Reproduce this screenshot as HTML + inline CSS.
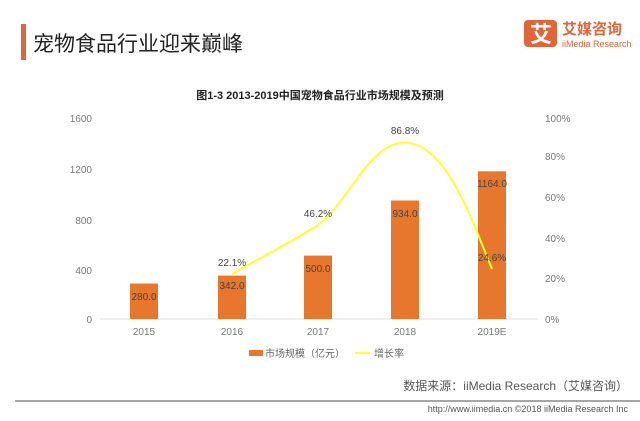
<!DOCTYPE html>
<html><head><meta charset="utf-8"><style>
body{margin:0;width:640px;height:416px;background:#fff;overflow:hidden;font-family:"Liberation Sans","Noto Sans CJK SC",sans-serif;}
</style></head><body>
<svg width="640" height="416" xmlns="http://www.w3.org/2000/svg" font-family="Liberation Sans, Noto Sans CJK SC, sans-serif">
<rect x="21" y="24" width="5" height="36" fill="#e0663a"/>
<text x="33" y="51" font-size="21" fill="#222">宠物食品行业迎来巅峰</text>
<rect x="524" y="20" width="33" height="27" rx="4" fill="#e0663a"/>
<text x="530" y="42" font-size="22" font-weight="bold" fill="#fff">艾</text>
<text x="562" y="34" font-size="15" font-weight="bold" fill="#e0663a">艾媒咨询</text>
<text x="562" y="47" font-size="9" fill="#e0663a">iiMedia Research</text>
<text x="320" y="99" font-size="11" font-weight="bold" fill="#222" text-anchor="middle">图1-3  2013-2019中国宠物食品行业市场规模及预测</text>
<g font-size="10" fill="#777">
<text x="92" y="122" text-anchor="end">1600</text>
<text x="92" y="173" text-anchor="end">1200</text>
<text x="92" y="224" text-anchor="end">800</text>
<text x="92" y="274" text-anchor="end">400</text>
<text x="92" y="323" text-anchor="end">0</text>
<text x="545" y="122">100%</text>
<text x="545" y="160">80%</text>
<text x="545" y="201">60%</text>
<text x="545" y="242">40%</text>
<text x="545" y="282">20%</text>
<text x="545" y="323">0%</text>
<text x="144" y="335" text-anchor="middle">2015</text>
<text x="232" y="335" text-anchor="middle">2016</text>
<text x="318" y="335" text-anchor="middle">2017</text>
<text x="405" y="335" text-anchor="middle">2018</text>
<text x="492" y="335" text-anchor="middle">2019E</text>
</g>
<line x1="100" y1="319" x2="538" y2="319" stroke="#ddd"/>
<g fill="#e8772e">
<rect x="130" y="283.5" width="28" height="35.5"/>
<rect x="218" y="275.6" width="28" height="43.4"/>
<rect x="304" y="255.6" width="28" height="63.4"/>
<rect x="391" y="200.5" width="28" height="118.5"/>
<rect x="478" y="171.3" width="28" height="147.7"/>
</g>
<path d="M232,274 C265,255 295,240 318,225 C350,200 370,142 405,142.8 C445,143 470,215 492,269" fill="none" stroke="#ffff33" stroke-width="2"/>
<g font-size="10" fill="#444" text-anchor="middle">
<text x="144" y="300">280.0</text>
<text x="232" y="289">342.0</text>
<text x="318" y="272">500.0</text>
<text x="405" y="217">934.0</text>
<text x="492" y="187">1164.0</text>
<text x="232" y="266">22.1%</text>
<text x="318" y="217">46.2%</text>
<text x="405" y="134">86.8%</text>
<text x="492" y="261">24.6%</text>
</g>
<rect x="249" y="350" width="14" height="6" fill="#e8772e"/>
<text x="265" y="357" font-size="10" fill="#666">市场规模（亿元）</text>
<line x1="355" y1="353" x2="370" y2="353" stroke="#ffff33" stroke-width="2"/>
<text x="374" y="357" font-size="10" fill="#666">增长率</text>
<text x="628" y="390" font-size="12" fill="#555" text-anchor="end">数据来源：iiMedia Research（艾媒咨询）</text>
<line x1="15" y1="401" x2="640" y2="401" stroke="#888" stroke-width="1.5"/>
<text x="628" y="412" font-size="9" fill="#555" text-anchor="end">http://www.iimedia.cn    ©2018  iiMedia Research  Inc</text>
</svg>
</body></html>
